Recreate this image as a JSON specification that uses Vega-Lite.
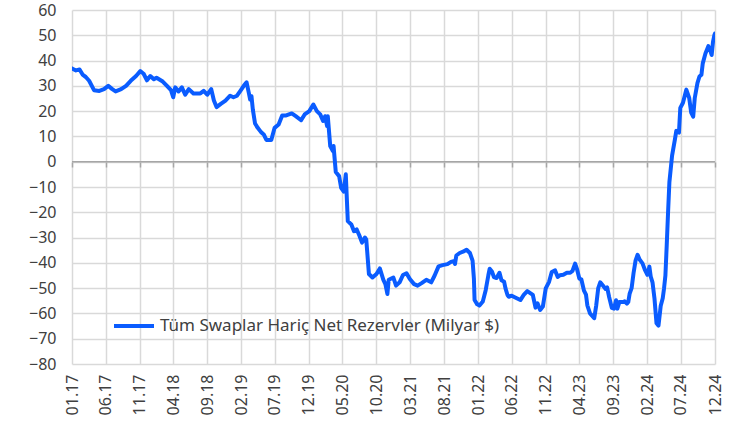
{
  "$schema": "https://vega.github.io/schema/vega-lite/v6.json",
  "width": 643,
  "height": 354,
  "autosize": {"type": "none"},
  "padding": {"left": 72, "top": 10, "right": 33, "bottom": 67},
  "background": "white",
  "config": {
    "view": {"stroke": null},
    "font": "Noto Sans",
    "axis": {"labelFont": "Noto Sans", "labelColor": "#404040", "labelFontSize": 16}
  },
  "datasets": {
    "reserves": [
      {"date": "2017-01-01", "value": 36.9}, {"date": "2017-01-19", "value": 36.1}, {"date": "2017-02-04", "value": 36.5},
      {"date": "2017-02-19", "value": 34.3}, {"date": "2017-03-04", "value": 33.5}, {"date": "2017-03-19", "value": 32},
      {"date": "2017-04-10", "value": 28.3}, {"date": "2017-05-04", "value": 28}, {"date": "2017-05-25", "value": 28.7},
      {"date": "2017-06-13", "value": 30}, {"date": "2017-07-01", "value": 28.7}, {"date": "2017-07-16", "value": 27.8},
      {"date": "2017-08-10", "value": 28.7}, {"date": "2017-09-01", "value": 30}, {"date": "2017-09-22", "value": 32},
      {"date": "2017-10-16", "value": 33.9}, {"date": "2017-11-04", "value": 35.8}, {"date": "2017-11-19", "value": 34.8},
      {"date": "2017-12-04", "value": 32.2}, {"date": "2017-12-19", "value": 33.9}, {"date": "2018-01-04", "value": 32.6},
      {"date": "2018-01-16", "value": 33.2}, {"date": "2018-02-13", "value": 31.7}, {"date": "2018-03-04", "value": 30},
      {"date": "2018-03-22", "value": 28.3}, {"date": "2018-04-01", "value": 25.5}, {"date": "2018-04-10", "value": 29.4},
      {"date": "2018-04-25", "value": 27.8}, {"date": "2018-05-10", "value": 29.4}, {"date": "2018-05-25", "value": 26.5},
      {"date": "2018-06-10", "value": 28.7}, {"date": "2018-07-01", "value": 27}, {"date": "2018-08-01", "value": 27},
      {"date": "2018-08-16", "value": 28}, {"date": "2018-09-01", "value": 26.5}, {"date": "2018-09-19", "value": 28.7},
      {"date": "2018-10-01", "value": 24.2}, {"date": "2018-10-13", "value": 21.6}, {"date": "2018-11-01", "value": 22.9},
      {"date": "2018-11-22", "value": 24.2}, {"date": "2018-12-13", "value": 26.1}, {"date": "2018-12-28", "value": 25.5},
      {"date": "2019-01-13", "value": 26.1}, {"date": "2019-01-28", "value": 28}, {"date": "2019-02-13", "value": 30.1},
      {"date": "2019-02-25", "value": 31.4}, {"date": "2019-03-07", "value": 27.2}, {"date": "2019-03-13", "value": 24.6},
      {"date": "2019-03-19", "value": 25.9}, {"date": "2019-03-25", "value": 20.7}, {"date": "2019-04-04", "value": 15.1},
      {"date": "2019-04-16", "value": 13.4}, {"date": "2019-05-01", "value": 11.7}, {"date": "2019-05-13", "value": 10.8},
      {"date": "2019-05-25", "value": 8.6}, {"date": "2019-06-16", "value": 8.6}, {"date": "2019-07-01", "value": 13.4},
      {"date": "2019-07-19", "value": 14.7}, {"date": "2019-08-04", "value": 18.3}, {"date": "2019-08-22", "value": 18.3},
      {"date": "2019-09-16", "value": 19.1}, {"date": "2019-10-04", "value": 18}, {"date": "2019-10-28", "value": 16.4},
      {"date": "2019-11-13", "value": 18.7}, {"date": "2019-12-04", "value": 20}, {"date": "2019-12-22", "value": 22.6},
      {"date": "2020-01-07", "value": 20}, {"date": "2020-01-22", "value": 18.7}, {"date": "2020-02-04", "value": 16.1},
      {"date": "2020-02-13", "value": 18}, {"date": "2020-02-22", "value": 14.1}, {"date": "2020-02-25", "value": 18},
      {"date": "2020-03-07", "value": 6.2}, {"date": "2020-03-19", "value": 4.2}, {"date": "2020-03-22", "value": 6.2},
      {"date": "2020-04-01", "value": -4.1}, {"date": "2020-04-16", "value": -5.7}, {"date": "2020-04-25", "value": -10.3},
      {"date": "2020-05-07", "value": -11.8}, {"date": "2020-05-16", "value": -5}, {"date": "2020-05-25", "value": -23.5},
      {"date": "2020-06-10", "value": -24.8}, {"date": "2020-06-22", "value": -27.5}, {"date": "2020-07-04", "value": -26.8},
      {"date": "2020-07-16", "value": -29.2}, {"date": "2020-07-28", "value": -32}, {"date": "2020-08-10", "value": -30},
      {"date": "2020-08-16", "value": -30.7}, {"date": "2020-08-28", "value": -44.4}, {"date": "2020-09-13", "value": -45.8},
      {"date": "2020-10-01", "value": -44.4}, {"date": "2020-10-16", "value": -42.2}, {"date": "2020-11-01", "value": -46.7},
      {"date": "2020-11-10", "value": -48.4}, {"date": "2020-11-19", "value": -52.3}, {"date": "2020-11-25", "value": -46.7},
      {"date": "2020-12-16", "value": -45.8}, {"date": "2020-12-28", "value": -49}, {"date": "2021-01-13", "value": -47.7},
      {"date": "2021-01-28", "value": -44.8}, {"date": "2021-02-13", "value": -44.1}, {"date": "2021-02-28", "value": -46.4},
      {"date": "2021-03-19", "value": -48.4}, {"date": "2021-04-04", "value": -49}, {"date": "2021-04-22", "value": -48},
      {"date": "2021-05-13", "value": -46.7}, {"date": "2021-06-04", "value": -47.7}, {"date": "2021-06-19", "value": -45.1},
      {"date": "2021-07-07", "value": -41.4}, {"date": "2021-07-25", "value": -40.9}, {"date": "2021-08-16", "value": -40.5},
      {"date": "2021-09-01", "value": -39.6}, {"date": "2021-09-13", "value": -39.3}, {"date": "2021-09-19", "value": -40.4},
      {"date": "2021-09-25", "value": -37.1}, {"date": "2021-10-10", "value": -36.1}, {"date": "2021-10-25", "value": -35.6},
      {"date": "2021-11-10", "value": -34.8}, {"date": "2021-11-25", "value": -36.1}, {"date": "2021-12-07", "value": -39.1},
      {"date": "2021-12-13", "value": -46.2}, {"date": "2021-12-16", "value": -54.7}, {"date": "2021-12-28", "value": -56.4},
      {"date": "2022-01-07", "value": -56.9}, {"date": "2022-01-22", "value": -55.3}, {"date": "2022-02-04", "value": -50.8},
      {"date": "2022-02-16", "value": -44.9}, {"date": "2022-02-22", "value": -42.3}, {"date": "2022-03-04", "value": -43.4},
      {"date": "2022-03-13", "value": -45.6}, {"date": "2022-03-25", "value": -46}, {"date": "2022-04-07", "value": -43.9},
      {"date": "2022-04-16", "value": -46.9}, {"date": "2022-04-28", "value": -47.5}, {"date": "2022-05-04", "value": -50.1},
      {"date": "2022-05-13", "value": -52.7}, {"date": "2022-05-19", "value": -53.4}, {"date": "2022-06-01", "value": -53},
      {"date": "2022-06-19", "value": -53.8}, {"date": "2022-07-10", "value": -54.7}, {"date": "2022-07-25", "value": -52.7},
      {"date": "2022-08-10", "value": -51.2}, {"date": "2022-08-25", "value": -52.1}, {"date": "2022-09-04", "value": -52.7},
      {"date": "2022-09-16", "value": -57.7}, {"date": "2022-09-25", "value": -56}, {"date": "2022-10-07", "value": -58.6},
      {"date": "2022-10-19", "value": -57.3}, {"date": "2022-11-01", "value": -50.1}, {"date": "2022-11-16", "value": -47.5},
      {"date": "2022-11-28", "value": -43.6}, {"date": "2022-12-13", "value": -43}, {"date": "2022-12-25", "value": -45.6},
      {"date": "2023-01-04", "value": -44.9}, {"date": "2023-01-19", "value": -44.7}, {"date": "2023-02-04", "value": -43.9},
      {"date": "2023-02-19", "value": -43.9}, {"date": "2023-03-01", "value": -43.2}, {"date": "2023-03-13", "value": -40.3},
      {"date": "2023-03-22", "value": -42.6}, {"date": "2023-04-01", "value": -46.2}, {"date": "2023-04-10", "value": -46.5},
      {"date": "2023-04-22", "value": -51}, {"date": "2023-05-01", "value": -52.6}, {"date": "2023-05-07", "value": -56.8},
      {"date": "2023-05-19", "value": -60}, {"date": "2023-06-01", "value": -61.3}, {"date": "2023-06-07", "value": -61.9},
      {"date": "2023-06-16", "value": -56.8}, {"date": "2023-06-25", "value": -50}, {"date": "2023-07-04", "value": -47.7},
      {"date": "2023-07-16", "value": -49}, {"date": "2023-07-28", "value": -50.3}, {"date": "2023-08-04", "value": -49.7},
      {"date": "2023-08-13", "value": -53.5}, {"date": "2023-08-25", "value": -57.8}, {"date": "2023-09-04", "value": -58.1},
      {"date": "2023-09-13", "value": -54.8}, {"date": "2023-09-19", "value": -58.1}, {"date": "2023-09-28", "value": -55.5},
      {"date": "2023-10-13", "value": -55.5}, {"date": "2023-10-22", "value": -55.2}, {"date": "2023-11-01", "value": -56.1},
      {"date": "2023-11-07", "value": -55.5}, {"date": "2023-11-13", "value": -52.3}, {"date": "2023-11-22", "value": -50},
      {"date": "2023-12-01", "value": -43.9}, {"date": "2023-12-10", "value": -39}, {"date": "2023-12-19", "value": -36.8},
      {"date": "2023-12-28", "value": -38.7}, {"date": "2024-01-10", "value": -40.2}, {"date": "2024-01-22", "value": -43},
      {"date": "2024-02-01", "value": -44.7}, {"date": "2024-02-10", "value": -41.5}, {"date": "2024-02-16", "value": -45.4},
      {"date": "2024-02-24", "value": -47.7}, {"date": "2024-03-04", "value": -54.2}, {"date": "2024-03-13", "value": -63.9},
      {"date": "2024-03-22", "value": -64.8}, {"date": "2024-04-01", "value": -57}, {"date": "2024-04-10", "value": -54},
      {"date": "2024-04-16", "value": -50}, {"date": "2024-04-22", "value": -45}, {"date": "2024-04-28", "value": -33},
      {"date": "2024-05-04", "value": -20}, {"date": "2024-05-10", "value": -8}, {"date": "2024-05-22", "value": 2.4},
      {"date": "2024-06-04", "value": 8.9}, {"date": "2024-06-10", "value": 12.2}, {"date": "2024-06-22", "value": 11.5},
      {"date": "2024-06-28", "value": 21.3}, {"date": "2024-07-10", "value": 23.3}, {"date": "2024-07-25", "value": 28.5},
      {"date": "2024-08-07", "value": 25.2}, {"date": "2024-08-16", "value": 19.4}, {"date": "2024-08-25", "value": 17.8},
      {"date": "2024-09-01", "value": 25.2}, {"date": "2024-09-13", "value": 31.1}, {"date": "2024-09-22", "value": 33.7},
      {"date": "2024-10-01", "value": 34.4}, {"date": "2024-10-07", "value": 38.9}, {"date": "2024-10-19", "value": 42.8},
      {"date": "2024-11-01", "value": 45.7}, {"date": "2024-11-07", "value": 44.8}, {"date": "2024-11-16", "value": 42.2},
      {"date": "2024-11-22", "value": 47.4}, {"date": "2024-11-28", "value": 50}, {"date": "2024-12-01", "value": 50.7}
    ],
    "zero": [{"start": "2017-01-01", "end": "2024-12-01", "level": 0}]
  },
  "resolve": {"axis": {"x": "independent", "y": "independent"}},
  "layer": [
    {
      "data": {"name": "zero"},
      "mark": {"type": "rule", "color": "#a6a6a6", "strokeWidth": 1.5},
      "encoding": {
        "x": {
          "field": "start", "type": "temporal",
          "scale": {"type": "utc", "domain": [{"year": 2017, "month": 1, "date": 1, "utc": true}, {"year": 2024, "month": 12, "date": 1, "utc": true}]},
          "axis": {
            "orient": "bottom", "offset": -202, "labels": false, "grid": false, "domain": false,
            "ticks": true, "tickSize": 5, "tickColor": "#a6a6a6", "tickWidth": 1.5, "title": null,
            "values": [
              {"year": 2017, "month": 1, "date": 1, "utc": true}, {"year": 2017, "month": 6, "date": 1, "utc": true},
              {"year": 2017, "month": 11, "date": 1, "utc": true}, {"year": 2018, "month": 4, "date": 1, "utc": true},
              {"year": 2018, "month": 9, "date": 1, "utc": true}, {"year": 2019, "month": 2, "date": 1, "utc": true},
              {"year": 2019, "month": 7, "date": 1, "utc": true}, {"year": 2019, "month": 12, "date": 1, "utc": true},
              {"year": 2020, "month": 5, "date": 1, "utc": true}, {"year": 2020, "month": 10, "date": 1, "utc": true},
              {"year": 2021, "month": 3, "date": 1, "utc": true}, {"year": 2021, "month": 8, "date": 1, "utc": true},
              {"year": 2022, "month": 1, "date": 1, "utc": true}, {"year": 2022, "month": 6, "date": 1, "utc": true},
              {"year": 2022, "month": 11, "date": 1, "utc": true}, {"year": 2023, "month": 4, "date": 1, "utc": true},
              {"year": 2023, "month": 9, "date": 1, "utc": true}, {"year": 2024, "month": 2, "date": 1, "utc": true},
              {"year": 2024, "month": 7, "date": 1, "utc": true}, {"year": 2024, "month": 12, "date": 1, "utc": true}
            ]
          }
        },
        "x2": {"field": "end"},
        "y": {"field": "level", "type": "quantitative", "scale": {"domain": [-80, 60], "nice": false, "zero": false}, "axis": null}
      }
    },
    {
      "data": {"name": "reserves"},
      "mark": {"type": "line", "strokeWidth": 4, "strokeJoin": "round", "strokeCap": "round", "clip": true},
      "encoding": {
        "x": {
          "field": "date", "type": "temporal",
          "scale": {"type": "utc", "domain": [{"year": 2017, "month": 1, "date": 1, "utc": true}, {"year": 2024, "month": 12, "date": 1, "utc": true}]},
          "axis": {
            "orient": "bottom", "title": null,
            "labelExpr": "utcFormat(datum.value, '%m.%y')",
            "labelAngle": -90, "labelPadding": 10, "labelFontSize": 16,
            "domain": false, "ticks": false, "labelOverlap": false,
            "grid": true, "gridColor": "#d9d9d9", "gridWidth": 1.5,
            "values": [
              {"year": 2017, "month": 1, "date": 1, "utc": true}, {"year": 2017, "month": 6, "date": 1, "utc": true},
              {"year": 2017, "month": 11, "date": 1, "utc": true}, {"year": 2018, "month": 4, "date": 1, "utc": true},
              {"year": 2018, "month": 9, "date": 1, "utc": true}, {"year": 2019, "month": 2, "date": 1, "utc": true},
              {"year": 2019, "month": 7, "date": 1, "utc": true}, {"year": 2019, "month": 12, "date": 1, "utc": true},
              {"year": 2020, "month": 5, "date": 1, "utc": true}, {"year": 2020, "month": 10, "date": 1, "utc": true},
              {"year": 2021, "month": 3, "date": 1, "utc": true}, {"year": 2021, "month": 8, "date": 1, "utc": true},
              {"year": 2022, "month": 1, "date": 1, "utc": true}, {"year": 2022, "month": 6, "date": 1, "utc": true},
              {"year": 2022, "month": 11, "date": 1, "utc": true}, {"year": 2023, "month": 4, "date": 1, "utc": true},
              {"year": 2023, "month": 9, "date": 1, "utc": true}, {"year": 2024, "month": 2, "date": 1, "utc": true},
              {"year": 2024, "month": 7, "date": 1, "utc": true}, {"year": 2024, "month": 12, "date": 1, "utc": true}
            ]
          }
        },
        "y": {
          "field": "value", "type": "quantitative",
          "scale": {"domain": [-80, 60], "nice": false, "zero": false},
          "axis": {
            "title": null, "values": [-80, -70, -60, -50, -40, -30, -20, -10, 0, 10, 20, 30, 40, 50, 60],
            "domain": false, "ticks": false, "labelPadding": 16, "labelFontSize": 16,
            "grid": true, "gridColor": "#d9d9d9", "gridWidth": 1.5
          }
        },
        "color": {
          "datum": "Tüm Swaplar Hariç Net Rezervler (Milyar $)",
          "type": "nominal",
          "scale": {"range": ["#0a5cff"]},
          "legend": {
            "title": null, "orient": "none", "legendX": 40, "legendY": 294,
            "symbolType": "stroke", "symbolSize": 1600, "symbolStrokeWidth": 4,
            "labelFontSize": 17, "labelColor": "#404040", "labelFont": "Noto Sans", "labelLimit": 500, "labelOffset": 4
          }
        }
      }
    }
  ]
}
